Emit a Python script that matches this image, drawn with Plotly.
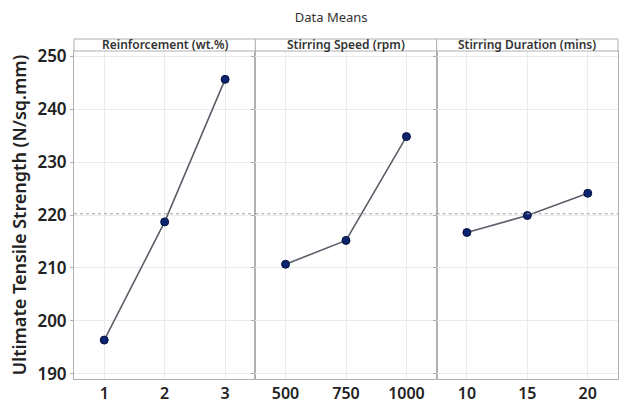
import plotly.graph_objects as go
from plotly.subplots import make_subplots

# Main-effects data means for ultimate tensile strength
factors = ["Reinforcement (wt.%)", "Stirring Speed (rpm)", "Stirring Duration (mins)"]
reinforcement_levels = ["1", "2", "3"]
reinforcement_means = [196.4, 218.7, 245.6]
speed_levels = ["500", "750", "1000"]
speed_means = [210.7, 215.2, 234.8]
duration_levels = ["10", "15", "20"]
duration_means = [216.7, 219.9, 224.1]
y_ticks = [190, 200, 210, 220, 230, 240, 250]

levels = [reinforcement_levels, speed_levels, duration_levels]
means = [reinforcement_means, speed_means, duration_means]
all_values = reinforcement_means + speed_means + duration_means
grand_mean = sum(all_values) / len(all_values)

FONT = "Noto Sans"
W, H = 619, 405
ML, MR, MT, MB = 74, 1, 51, 26
plot_h = H - MT - MB
strip_h = 12 / plot_h

fig = make_subplots(rows=1, cols=3, shared_yaxes=True, horizontal_spacing=0)

for i, (lv, mv) in enumerate(zip(levels, means), start=1):
    fig.add_trace(
        go.Scatter(
            x=lv, y=mv, mode="lines+markers",
            line=dict(color="#5a5f68", width=1.6),
            marker=dict(size=8, color="#0b2470", line=dict(color="#06123a", width=1)),
            showlegend=False, hoverinfo="x+y",
        ),
        row=1, col=i,
    )
    fig.update_xaxes(
        type="category", range=[-0.5, 2.5],
        showgrid=True, gridcolor="#ebebeb", gridwidth=1,
        showline=True, linecolor="#b0b0b0", linewidth=1, mirror=True,
        ticks="", automargin=False,
        tickfont=dict(family=FONT, size=16, color="#222", weight=600),
        zeroline=False, fixedrange=True,
        row=1, col=i,
    )

fig.update_yaxes(
    range=[189.05, 250.95], tickvals=y_ticks,
    showgrid=True, gridcolor="#ebebeb", gridwidth=1,
    showline=True, linecolor="#b0b0b0", linewidth=1, mirror=True,
    ticks="outside", ticklen=3, tickcolor="#b0b0b0",
    tickfont=dict(family=FONT, size=17, color="#222", weight=600),
    zeroline=False, automargin=False,
)
fig.update_yaxes(
    title=dict(text="Ultimate Tensile Strength (N/sq.mm)",
               font=dict(family=FONT, size=18, color="#222", weight=600), standoff=6),
    row=1, col=1,
)

# Grand mean reference line
fig.add_hline(y=grand_mean, line=dict(color="#a0a0a0", width=1, dash="dot"),
              row="all", col="all")

# Factor header strips above each panel
for i, name in enumerate(factors, start=1):
    xa = fig.layout["xaxis" if i == 1 else f"xaxis{i}"]
    d0, d1 = xa.domain
    fig.add_shape(type="rect", xref="paper", yref="paper",
                  x0=d0, x1=d1, y0=1, y1=1 + strip_h,
                  line=dict(color="#b0b0b0", width=1), fillcolor="white")
    fig.add_annotation(text=name, xref="paper", yref="paper",
                       x=(d0 + d1) / 2, y=1 + strip_h / 2,
                       xanchor="center", yanchor="middle", showarrow=False,
                       font=dict(family=FONT, size=12, color="#333", weight=600))

fig.update_layout(
    width=W, height=H,
    margin=dict(l=ML, r=MR, t=MT, b=MB),
    paper_bgcolor="white", plot_bgcolor="white",
    title=dict(text="Data Means", x=0.535, xanchor="center",
               y=1 - 17 / H, yanchor="middle", yref="container",
               font=dict(family=FONT, size=13, color="#333")),
)

fig.write_html("out.html")
